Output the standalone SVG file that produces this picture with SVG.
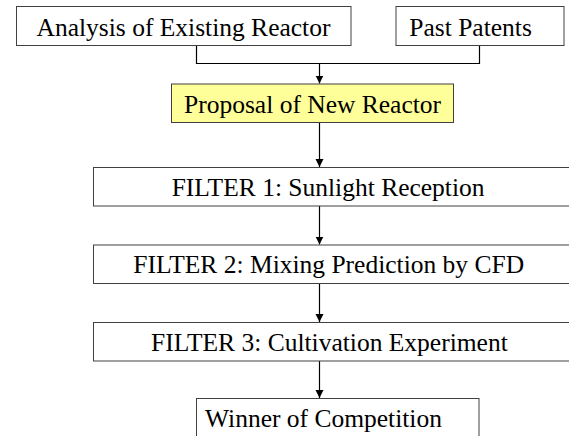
<svg xmlns="http://www.w3.org/2000/svg" width="569" height="436" viewBox="0 0 569 436">
  <style>
    .box { fill: #ffffff; stroke: #404040; stroke-width: 1; }
    .hl { fill: #ffff99; }
    .wire { fill: none; stroke: #000000; stroke-width: 1.2; }
  </style>
  <defs>
    <marker id="arrow" markerUnits="userSpaceOnUse" markerWidth="8" markerHeight="9" refX="8" refY="4" orient="auto">
      <path d="M0,0 L8,4 L0,8 Z" fill="#000000"/>
    </marker>
  </defs>

  <rect width="569" height="436" fill="#ffffff"/>

  <g id="connectors">
    <path class="wire" d="M196.5,45.5 V63.5 H479.5 V45.5"/>
    <path class="wire" d="M319.5,63.5 V83.5" marker-end="url(#arrow)"/>
    <path class="wire" d="M319.5,122.5 V167" marker-end="url(#arrow)"/>
    <path class="wire" d="M319.5,206 V244.5" marker-end="url(#arrow)"/>
    <path class="wire" d="M319.5,283.5 V322" marker-end="url(#arrow)"/>
    <path class="wire" d="M319.5,360.5 V398" marker-end="url(#arrow)"/>
  </g>

  <g font-family="Liberation Serif" font-size="25.5" fill="#000000">
    <g id="existing-reactor">
      <rect class="box" x="16.5" y="6.5" width="334.5" height="39"/>
      <text x="36.5" y="35.7">Analysis of Existing Reactor</text>
    </g>

    <g id="past-patents">
      <rect class="box" x="396" y="6.5" width="168" height="39"/>
      <text x="409.3" y="35.7">Past Patents</text>
    </g>

    <g id="proposal">
      <rect class="box hl" x="171.5" y="84" width="282" height="38.5"/>
      <text x="184" y="112.7">Proposal of New Reactor</text>
    </g>

    <g id="filter-1">
      <rect class="box" x="93.5" y="167.5" width="490" height="38.5"/>
      <text x="171.7" y="196">FILTER 1: Sunlight Reception</text>
    </g>

    <g id="filter-2">
      <rect class="box" x="93.5" y="245" width="490" height="38.5"/>
      <text x="133.3" y="273.3">FILTER 2: Mixing Prediction by CFD</text>
    </g>

    <g id="filter-3">
      <rect class="box" x="93.5" y="322.5" width="490" height="38.5"/>
      <text x="151" y="350.7">FILTER 3: Cultivation Experiment</text>
    </g>

    <g id="winner">
      <rect class="box" x="196.5" y="398.5" width="282.5" height="50"/>
      <text x="205" y="426.7">Winner of Competition</text>
    </g>
  </g>
</svg>
